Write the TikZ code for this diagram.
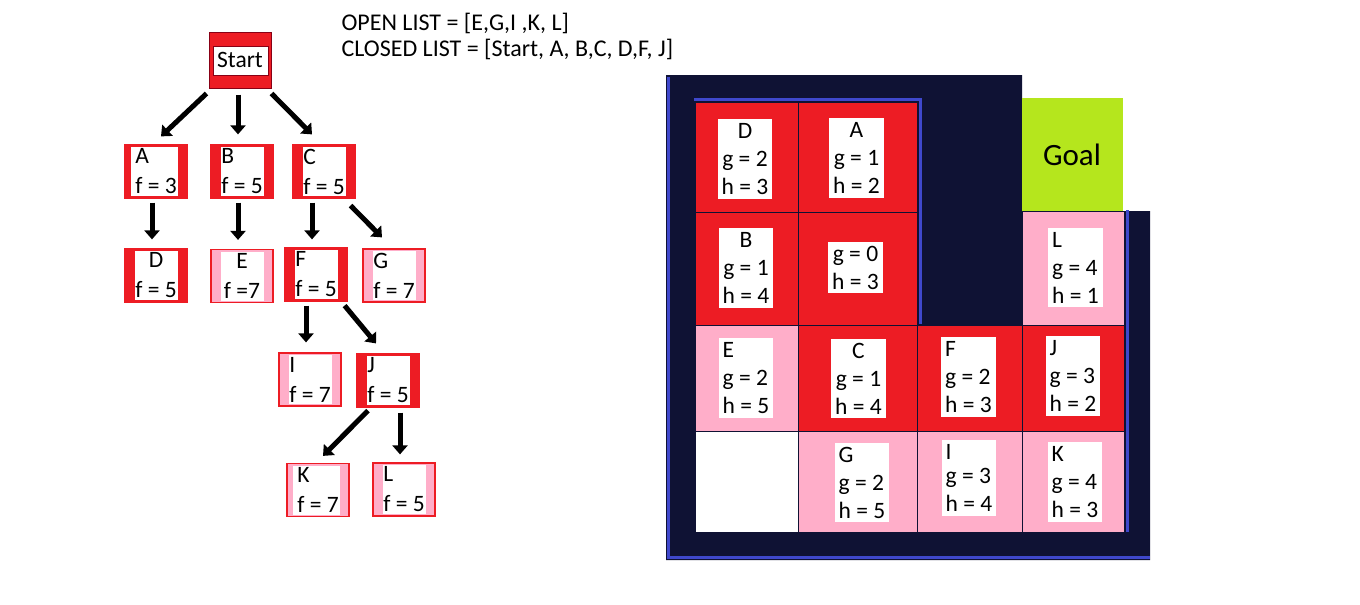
\documentclass[tikz,border=0pt]{standalone}
\usepackage{fontspec}
\setmainfont{Carlito}
\usetikzlibrary{arrows.meta}

\definecolor{pred}{HTML}{ED1C24}
\definecolor{ppink}{HTML}{FFAEC9}
\definecolor{plime}{HTML}{B5E61D}
\definecolor{pnavy}{HTML}{0F1234}
\definecolor{pblue}{HTML}{3F48CC}
\definecolor{pdark}{HTML}{880015}

\begin{document}
\begin{tikzpicture}[x=1pt, y=-1pt,
    every node/.style={font=\fontsize{23.5}{30}\selectfont},
    tbox/.style={draw=pred, line width=1.2pt, fill=pred, minimum width=62pt,
      minimum height=53pt, inner sep=0pt, align=left,
      path picture={\fill[white] ([shift={(#1,2)}]path picture bounding box.north west)
        rectangle ([shift={(-9,-2)}]path picture bounding box.south east);}},
    tbox/.default=10,
    tpink/.style={tbox=#1, fill=ppink},
    tpink/.default=10,
    startbox/.style={draw=pdark, line width=1pt, fill=pred, minimum width=62pt,
      minimum height=56pt, inner sep=0pt,
      path picture={\filldraw[fill=white, draw=pdark, line width=0.8pt]
        ([shift={(4,14)}]path picture bounding box.north west)
        rectangle ([shift={(-3,-13)}]path picture bounding box.south east);}},
    arr/.style={-{Triangle[width=15pt,length=9pt]}, line width=5pt},
    cell/.style={draw=pnavy, line width=1pt},
    wall/.style={draw=pblue, line width=3pt},
    cbox/.style={fill=white, inner xsep=4pt, inner ysep=4pt, align=center,
      font=\fontsize{23.5}{28}\selectfont},
    cboxl/.style={cbox, align=left}]
  \useasboundingbox (0,0) rectangle (1360,605);

  % lists
  \node[anchor=base west, font=\fontsize{24}{26}\selectfont] (open) at (338,30) {OPEN LIST = [E,G,I ,K, L]};
  \node[anchor=base west, font=\fontsize{24}{26}\selectfont] (closed) at (338,56) {CLOSED LIST = [Start, A, B,C, D,F, J]};

  % search tree
  \node[startbox] (start) at (240,60) {Start};
  \node[tbox=6] (a) at (156,171.5) {A\\f = 3};
  \node[tbox] (b) at (242,171.5) {B\\f = 5};
  \node[tbox] (c) at (324,171.5) {C\\f = 5};
  \node[tbox, align=center] (d) at (156,275.5) {D\\f = 5};
  \node[tpink, align=center] (e) at (242,276) {E\\f =7};
  \node[tbox] (f) at (316,274.5) {F\\f = 5};
  \node[tpink] (g) at (394,275.5) {G\\f = 7};
  \node[tpink] (i) at (310,379.5) {I\\f = 7};
  \node[tbox] (j) at (388,380.5) {J\\f = 5};
  \node[tpink=6] (k) at (318,490) {K\\f = 7};
  \node[tpink] (l) at (404,489.5) {L\\f = 5};

  \draw[arr] ([shift={(-2,5)}]start.south west) -- ([shift={(5,-8)}]a.north);
  \draw[arr] ([shift={(-2,6)}]start.south) -- ([shift={(-4,-10)}]b.north);
  \draw[arr] ([shift={(0,5)}]start.south east) -- ([shift={(-12,-10)}]c.north);
  \draw[arr] ([shift={(-4,4)}]a.south) -- ([shift={(-4,-9)}]d.north);
  \draw[arr] ([shift={(-4,4)}]b.south) -- ([shift={(-4,-9)}]e.north);
  \draw[arr] ([shift={(-12,4)}]c.south) -- ([shift={(-4,-8)}]f.north);
  \draw[arr] ([shift={(-5,7)}]c.south east) -- ([shift={(-12,-11)}]g.north);
  \draw[arr] ([shift={(-10,4)}]f.south) -- ([shift={(-4,-10)}]i.north);
  \draw[arr] ([shift={(-3,4)}]f.south east) -- ([shift={(-12,-10)}]j.north);
  \draw[arr] ([shift={(-20,3)}]j.south) -- ([shift={(5,-7)}]k.north);
  \draw[arr] ([shift={(12,5)}]j.south) -- ([shift={(-4,-8)}]l.north);

  % grid
  \fill[pnavy] (666,75) -- (1022,75) -- (1022,211) -- (1150,211) -- (1150,560) -- (666,560) -- cycle;
  \filldraw[cell, fill=pred] (695,102) rectangle (798,212);
  \filldraw[cell, fill=pred] (798,102) rectangle (917,212);
  \filldraw[cell, fill=pred] (695,212) rectangle (798,325);
  \filldraw[cell, fill=pred] (798,212) rectangle (917,325);
  \filldraw[cell, fill=ppink] (1022,211) rectangle (1124,325);
  \filldraw[cell, fill=ppink] (695,325) rectangle (798,431);
  \filldraw[cell, fill=pred] (798,325) rectangle (917,431);
  \filldraw[cell, fill=pred] (917,325) rectangle (1022,431);
  \filldraw[cell, fill=pred] (1022,325) rectangle (1124,431);
  \filldraw[cell, fill=white] (695,431) rectangle (798,532);
  \filldraw[cell, fill=ppink] (798,431) rectangle (917,532);
  \filldraw[cell, fill=ppink] (917,431) rectangle (1022,532);
  \filldraw[cell, fill=ppink] (1022,431) rectangle (1124,532);
  \fill[plime] (1022,98) rectangle (1123,211);

  \draw[wall] (668,77) -- (668,557) -- (1150,557);
  \draw[wall] (694,99) -- (920,99) -- (920,324);
  \draw[wall] (1127,210) -- (1127,532);

  \node[font=\fontsize{31}{36}\selectfont] (goal) at (1072,155) {Goal};
  \node[cbox] (cd) at (745,159) {D\\g = 2\\h = 3};
  \node[cbox] (ca) at (856.5,158) {A\\g = 1\\h = 2};
  \node[cbox] (cb) at (746,268) {B\\g = 1\\h = 4};
  \node[cbox] (cs) at (855.5,267.5) {g = 0\\h = 3};
  \node[cboxl] (cl) at (1075.5,267.5) {L\\g = 4\\h = 1};
  \node[cboxl] (ce) at (746,378) {E\\g = 2\\h = 5};
  \node[cbox] (cc) at (858.5,378.5) {C\\g = 1\\h = 4};
  \node[cboxl] (cf) at (968.5,377) {F\\g = 2\\h = 3};
  \node[cboxl] (cj) at (1073,376) {J\\g = 3\\h = 2};
  \node[cboxl] (cg) at (862,482.5) {G\\g = 2\\h = 5};
  \node[cboxl] (ci) at (969,478) {I\\[-4pt]g = 3\\h = 4};
  \node[cboxl] (ck) at (1075,482) {K\\g = 4\\h = 3};
\end{tikzpicture}
\end{document}
